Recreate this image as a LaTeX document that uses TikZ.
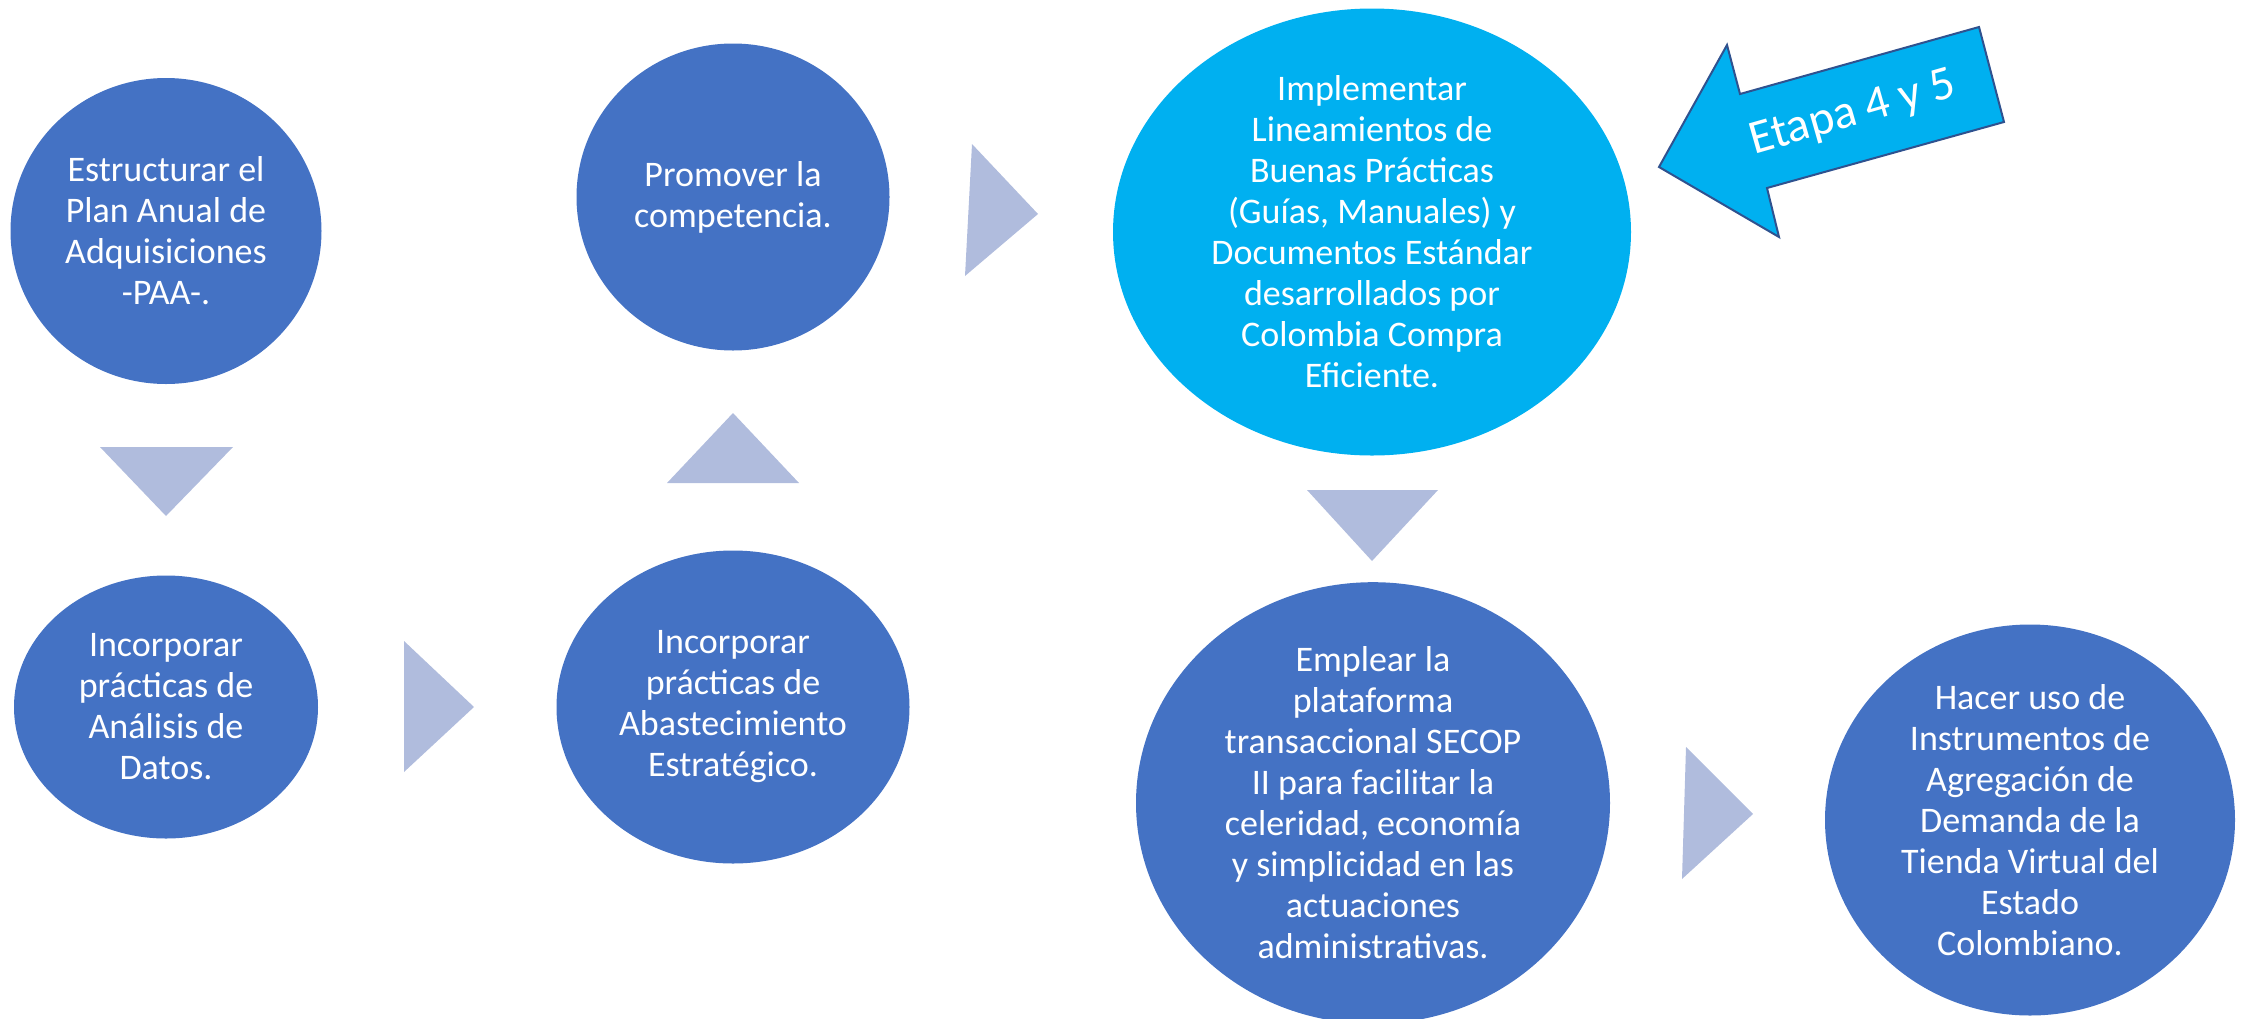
\documentclass[tikz,border=0pt]{standalone}
\usepackage{fontspec}
\setmainfont{Carlito}
\usetikzlibrary{shapes.geometric}
\definecolor{azul}{HTML}{4472C4}
\definecolor{celeste}{HTML}{00B0F0}
\definecolor{lila}{HTML}{B0BCDD}
\definecolor{borde}{HTML}{2F528F}
\tikzstyle{paso}=[ellipse, fill=azul, text=white, inner sep=0pt, align=center, font=\fontsize{18}{20.5}\selectfont]
\tikzstyle{flecha}=[fill=lila]

\begin{document}
\begin{tikzpicture}[x=0.5pt, y=-0.5pt]
\useasboundingbox (0,0) rectangle (2244,1018);
% Pasos
    \node[paso, minimum width=155.5pt, minimum height=153pt] (plan) at (166,231) {Estructurar el\\Plan Anual de\\Adquisiciones\\-PAA-.};
    \node[paso, minimum width=152pt, minimum height=131.5pt] (datos) at (166,707) {Incorporar\\prácticas de\\Análisis de\\Datos.};
    \node[paso, minimum width=176.5pt, minimum height=156.5pt] (abast) at (733,707) {Incorporar\\prácticas de\\Abastecimiento\\Estratégico.};
    \node[paso, minimum width=156.5pt, minimum height=153.5pt] (compet) at (733,197) {Promover la\\competencia.};
    \node[paso, fill=celeste, minimum width=259pt, minimum height=223.5pt] (guias) at (1372,232) {Implementar\\Lineamientos de\\Buenas Prácticas\\(Guías, Manuales) y\\Documentos Estándar\\desarrollados por\\Colombia Compra\\Eficiente.};
    \node[paso, minimum width=237pt, minimum height=212.5pt] (secop) at (1373,803) {Emplear la\\plataforma\\transaccional SECOP\\II para facilitar la\\celeridad, economía\\y simplicidad en las\\actuaciones\\administrativas.};
    \node[paso, minimum width=205pt, minimum height=195.5pt] (tienda) at (2030,820) {Hacer uso de\\Instrumentos de\\Agregación de\\Demanda de la\\Tienda Virtual del\\Estado\\Colombiano.};
% Flechas entre pasos
    \fill[flecha] (100,447) -- (233,447) -- (166,516) -- cycle;
    \fill[flecha] (404,641) -- (474,707) -- (404,772) -- cycle;
    \fill[flecha] (667,483) -- (733,413) -- (799,483) -- cycle;
    \fill[flecha] (972,144) -- (1038,214) -- (965,276) -- cycle;
    \fill[flecha] (1307,490) -- (1438,490) -- (1372,561) -- cycle;
    \fill[flecha] (1686,747) -- (1753,814) -- (1682,879) -- cycle;
% Etapa
    \draw[fill=celeste, draw=borde, line width=1pt, line join=miter] (1659,167) -- (1727,45) -- (1740,94) -- (1979,27) -- (2004,122) -- (1767,188) -- (1779,237) -- cycle;
    \node[text=white, rotate=16, font=\fontsize{24}{28}\selectfont] (etapa) at (1853,114) {Etapa 4 y 5};
\end{tikzpicture}
\end{document}
